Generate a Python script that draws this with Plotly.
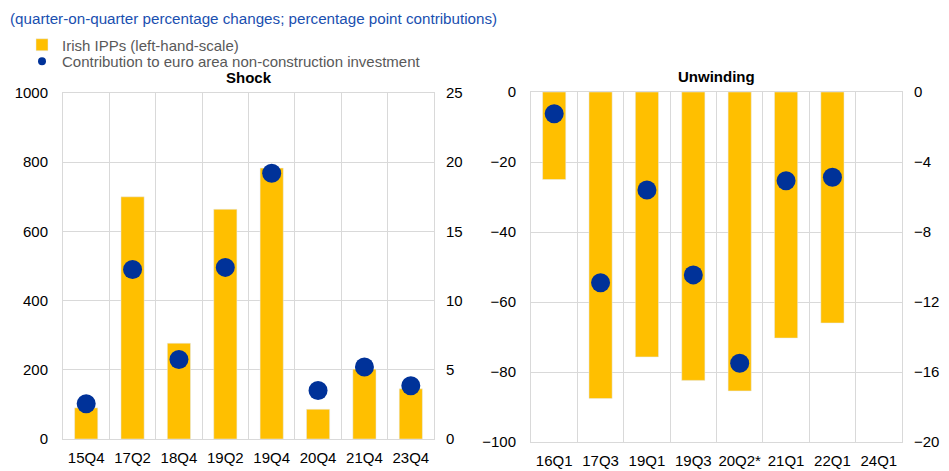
import plotly.graph_objects as go

# ---- data ----
shock_cats = ["15Q4", "17Q2", "18Q4", "19Q2", "19Q4", "20Q4", "21Q4", "23Q4"]
shock_ipps = [90, 700, 277, 664, 783, 86, 202, 145]
shock_contrib = [2.55, 12.25, 5.75, 12.4, 19.2, 3.5, 5.2, 3.85]

unwind_cats = ["16Q1", "17Q3", "19Q1", "19Q3", "20Q2*", "21Q1", "22Q1", "24Q1"]
unwind_ipps = [-25, -87.6, -75.7, -82.4, -85.4, -70.3, -66, None]
unwind_contrib = [-1.24, -10.9, -5.6, -10.45, -15.5, -5.07, -4.87, None]

left_ticks = [0, 200, 400, 600, 800, 1000]
left_ticks_r = [0, 5, 10, 15, 20, 25]
right_ticks = [-100, -80, -60, -40, -20, 0]
right_ticks_r = [-20, -16, -12, -8, -4, 0]

YELLOW = "#FFBF00"
BLUE = "#003299"
GRID = "#D9D9D9"
TXT = "#000000"
FONT = "Liberation Sans, Arial, sans-serif"

W, H = 949, 471

fig = go.Figure()

fig.add_trace(go.Bar(x=shock_cats, y=shock_ipps, marker_color=YELLOW, width=0.5,
                     xaxis="x", yaxis="y", showlegend=False))
fig.add_trace(go.Scatter(x=shock_cats, y=shock_contrib, mode="markers",
                         marker=dict(color=BLUE, size=19), xaxis="x", yaxis="y3",
                         showlegend=False))
fig.add_trace(go.Bar(x=unwind_cats, y=unwind_ipps, marker_color=YELLOW, width=0.5,
                     xaxis="x2", yaxis="y2", showlegend=False))
fig.add_trace(go.Scatter(x=unwind_cats, y=unwind_contrib, mode="markers",
                         marker=dict(color=BLUE, size=19), xaxis="x2", yaxis="y4",
                         showlegend=False))

# legend-only entries
fig.add_trace(go.Bar(x=[None], y=[None], marker_color=YELLOW,
                     name="Irish IPPs (left-hand-scale)", legend="legend",
                     xaxis="x", yaxis="y"))
fig.add_trace(go.Scatter(x=[None], y=[None], mode="markers", marker=dict(color=BLUE, size=8),
                         name="Contribution to euro area non-construction investment",
                         legend="legend2", xaxis="x", yaxis="y3"))

def px_x(p):
    return p / W

def px_y(p):
    return (H - p) / H

xcommon = dict(type="category", tickson="boundaries", showgrid=True, gridcolor=GRID,
               gridwidth=1, showline=True, linecolor=GRID, linewidth=1, mirror=True,
               ticks="", tickfont=dict(size=15, color=TXT, family=FONT), tickangle=0,
               ticklabelstandoff=5, range=[-0.5, 7.5], fixedrange=True, automargin=False)
ycommon = dict(showgrid=True, gridcolor=GRID, gridwidth=1, zeroline=False,
               showline=True, linecolor=GRID, linewidth=1, mirror=True, ticks="",
               tickfont=dict(size=15, color=TXT, family=FONT), ticklabelstandoff=11,
               automargin=False, fixedrange=True)
yright = dict(showgrid=False, zeroline=False, showline=False, ticks="",
              tickfont=dict(size=15, color=TXT, family=FONT), ticklabelstandoff=11,
              side="right", automargin=False, fixedrange=True)

fig.update_layout(
    width=W, height=H,
    margin=dict(l=0, r=0, t=0, b=0, autoexpand=False),
    paper_bgcolor="white", plot_bgcolor="white",
    font=dict(family=FONT, size=15, color=TXT),
    xaxis=dict(xcommon, domain=[px_x(63), px_x(434)], anchor="y"),
    yaxis=dict(ycommon, domain=[px_y(439), px_y(93)], anchor="x",
               range=[0, 1000], tickvals=left_ticks),
    yaxis3=dict(yright, overlaying="y", anchor="x", range=[0, 25], tickvals=left_ticks_r),
    xaxis2=dict(xcommon, domain=[px_x(531), px_x(902)], anchor="y2"),
    yaxis2=dict(ycommon, domain=[px_y(442), px_y(92)], anchor="x2",
                range=[-100, 0], tickvals=right_ticks),
    yaxis4=dict(yright, overlaying="y2", anchor="x2", range=[-20, 0], tickvals=right_ticks_r),
    bargap=0.5,
    legend=dict(x=px_x(22), y=px_y(45), xanchor="left", yanchor="middle",
                font=dict(size=15, color="#595959", family=FONT), bgcolor="rgba(0,0,0,0)",
                itemwidth=30),
    legend2=dict(x=px_x(22), y=px_y(61.5), xanchor="left", yanchor="middle",
                 font=dict(size=15, color="#595959", family=FONT), bgcolor="rgba(0,0,0,0)",
                 itemwidth=30),
    annotations=[
        dict(text="(quarter-on-quarter percentage changes; percentage point contributions)",
             x=px_x(8), y=px_y(19), xref="paper", yref="paper", xanchor="left",
             yanchor="middle", showarrow=False,
             font=dict(size=15.2, color="#1A4FB0", family=FONT)),
        dict(text="<b>Shock</b>", x=px_x(248.5), y=px_y(77.5), xref="paper", yref="paper",
             xanchor="center", yanchor="middle", showarrow=False,
             font=dict(size=15, color=TXT, family=FONT)),
        dict(text="<b>Unwinding</b>", x=px_x(716.5), y=px_y(77), xref="paper", yref="paper",
             xanchor="center", yanchor="middle", showarrow=False,
             font=dict(size=15, color=TXT, family=FONT)),
    ],
)

fig.write_html("out.html", config={"displayModeBar": False},
               post_script="document.body.style.margin='0';")
